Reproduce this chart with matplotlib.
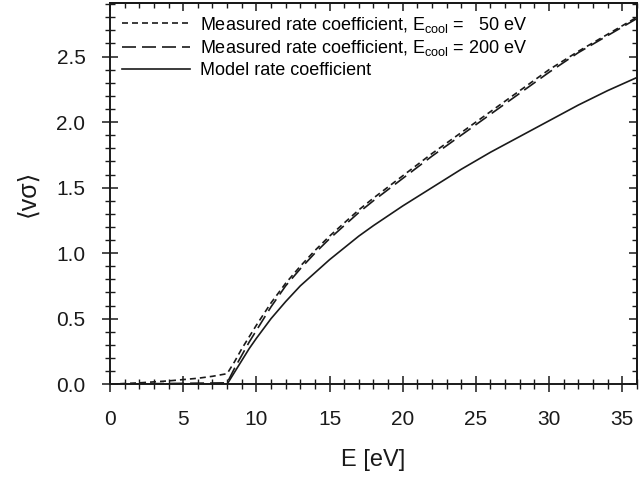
import matplotlib
matplotlib.use('Agg')
import matplotlib.pyplot as plt
from matplotlib.ticker import MultipleLocator, FormatStrFormatter

plt.rcParams['font.family'] = ['Liberation Sans', 'DejaVu Sans']
plt.rcParams['mathtext.fontset'] = 'custom'
plt.rcParams['mathtext.rm'] = 'Liberation Sans'
plt.rcParams['mathtext.it'] = 'Liberation Sans:italic'

# values
E_50 = [0, 2, 4, 6, 7, 8, 8.5, 9, 9.5, 10, 11, 12, 13, 14, 15, 16, 17, 18,
        20, 22, 24, 26, 28, 30, 32, 34, 36]
rate_50 = [0.0, 0.01, 0.025, 0.045, 0.06, 0.08, 0.17, 0.27, 0.36, 0.45, 0.62,
           0.77, 0.90, 1.02, 1.13, 1.23, 1.33, 1.42, 1.59, 1.76, 1.92, 2.08,
           2.24, 2.40, 2.54, 2.67, 2.80]

E_200 = [0, 4, 8, 8.5, 9, 9.5, 10, 11, 12, 13, 14, 15, 16, 17, 18, 20, 22,
         24, 26, 28, 30, 32, 34, 36]
rate_200 = [0.0, 0.005, 0.01, 0.12, 0.22, 0.32, 0.41, 0.59, 0.75, 0.88, 1.00,
            1.11, 1.21, 1.31, 1.40, 1.57, 1.74, 1.90, 2.06, 2.22, 2.38, 2.53,
            2.66, 2.79]

E_model = [0, 8, 8.5, 9, 9.5, 10, 11, 12, 13, 14, 15, 16, 17, 18, 20, 22, 24,
           26, 28, 30, 32, 34, 36]
rate_model = [0.0, 0.0, 0.09, 0.18, 0.27, 0.35, 0.50, 0.63, 0.75, 0.85, 0.95,
              1.04, 1.13, 1.21, 1.36, 1.50, 1.64, 1.77, 1.89, 2.01, 2.13, 2.24,
              2.34]

ink = '#1a1a1a'

fig = plt.figure(figsize=(6.4, 4.79), dpi=100)
ax = fig.add_axes([0.172, 0.198, 0.823, 0.796])

lw = 1.2
ax.plot(E_50, rate_50, color=ink, lw=lw, dashes=(3.6, 2.4),
        label=r'Measured rate coefficient, E$_{\rm cool}$ =   50 eV')
ax.plot(E_200, rate_200, color=ink, lw=lw, dashes=(8.4, 3.6),
        label=r'Measured rate coefficient, E$_{\rm cool}$ = 200 eV')
ax.plot(E_model, rate_model, color=ink, lw=lw, label='Model rate coefficient')

ax.set_xlim(0, 36)
ax.set_ylim(0, 2.91)
ax.xaxis.set_major_locator(MultipleLocator(5))
ax.xaxis.set_minor_locator(MultipleLocator(1))
ax.yaxis.set_major_locator(MultipleLocator(0.5))
ax.yaxis.set_minor_locator(MultipleLocator(0.1))
ax.yaxis.set_major_formatter(FormatStrFormatter('%.1f'))

for s in ax.spines.values():
    s.set_linewidth(1.4)
    s.set_color(ink)

ax.tick_params(which='major', direction='inout', length=11.5, width=1.1,
               labelsize=15, color=ink, labelcolor=ink)
ax.tick_params(which='minor', direction='inout', length=7, width=1.0, color=ink)
ax.tick_params(axis='x', which='major', pad=13)
ax.tick_params(axis='y', which='major', pad=12)

# top and right ticks point inwards only
top = ax.secondary_xaxis('top')
top.xaxis.set_major_locator(MultipleLocator(5))
top.xaxis.set_minor_locator(MultipleLocator(1))
top.tick_params(which='major', direction='in', length=6, width=1.1, labeltop=False, color=ink)
top.tick_params(which='minor', direction='in', length=3.5, width=1.0, color=ink)
right = ax.secondary_yaxis('right')
right.yaxis.set_major_locator(MultipleLocator(0.5))
right.yaxis.set_minor_locator(MultipleLocator(0.1))
right.tick_params(which='major', direction='in', length=6, width=1.1, labelright=False, color=ink)
right.tick_params(which='minor', direction='in', length=3.5, width=1.0, color=ink)
for sec in (top, right):
    for s in sec.spines.values():
        s.set_linewidth(1.4)

ax.set_xlabel('E [eV]', fontsize=17, color=ink, labelpad=14)
ax.set_ylabel('⟨vσ⟩', fontsize=18, color=ink, labelpad=12)

ax.legend(loc='upper left', frameon=False, fontsize=13, handlelength=3.8,
          handletextpad=0.55, labelspacing=0.2, borderaxespad=0.25,
          bbox_to_anchor=(0.0, 1.0))

fig.savefig('out.png', dpi=100)
